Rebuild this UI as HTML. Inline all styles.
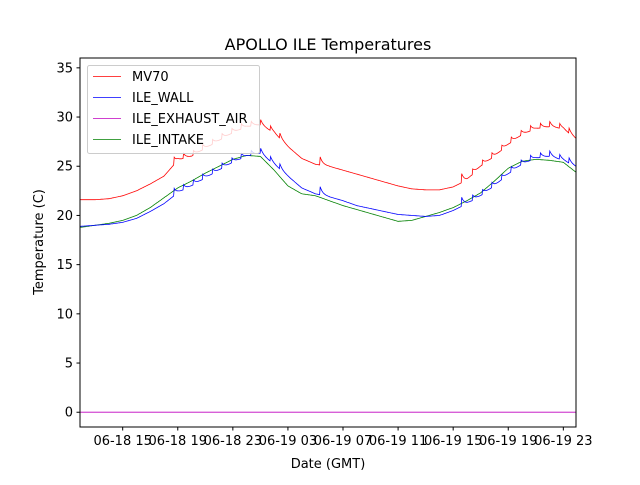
<!DOCTYPE html>
<html><head><meta charset="utf-8"><style>
body{margin:0;background:#fff;}
svg text{font-family:"DejaVu Sans","Liberation Sans",sans-serif;}
</style></head><body>
<svg id="chart" width="640" height="480" xmlns="http://www.w3.org/2000/svg">
<rect width="640" height="480" fill="#fff"/>
<text x="328" y="50" font-size="16" text-anchor="middle">APOLLO ILE Temperatures</text>
<g id="plot"></g>
<text x="328" y="468" font-size="13" text-anchor="middle">Date (GMT)</text>
<text transform="translate(43,242) rotate(-90)" font-size="13" text-anchor="middle">Temperature (C)</text>
</svg>
<script>
const hours = [12,13,14,15,16,17,18,19,20,21,22,23,24,25,26,27,28,29,30,31,32,33,34,35,36,37,38,39,40,41,42,43,44,45,46,47,48];
const mv70 = [21.6,21.6,21.7,22.0,22.5,23.2,24.0,25.6,26.0,26.8,27.6,28.4,29.0,29.2,28.4,27.0,25.8,25.2,25.0,24.6,24.2,23.8,23.4,23.0,22.7,22.6,22.6,22.9,23.6,25.0,26.0,27.2,28.2,28.8,29.0,28.8,27.7];
const wall = [18.9,19.0,19.1,19.3,19.7,20.4,21.2,22.3,23.0,23.8,24.6,25.4,26.0,26.3,25.2,24.0,22.8,22.2,21.9,21.5,21.0,20.7,20.4,20.1,20.0,19.9,20.0,20.5,21.2,22.0,23.0,24.2,25.2,25.8,26.0,25.6,24.9];
const exhaust = [0,0,0,0,0,0,0,0,0,0,0,0,0,0,0,0,0,0,0,0,0,0,0,0,0,0,0,0,0,0,0,0,0,0,0,0,0];
const intake = [18.8,19.0,19.2,19.5,20.0,20.8,21.8,22.8,23.5,24.3,25.0,25.7,26.1,26.0,24.6,23.0,22.2,22.0,21.5,21.0,20.6,20.2,19.8,19.4,19.5,19.9,20.3,20.8,21.5,22.3,23.5,24.8,25.5,25.7,25.6,25.4,24.3];
const spikeTimes = [18.7,19.4,20.1,20.8,21.5,22.2,22.9,23.6,24.3,25.0,25.7,26.4,29.3,39.6,40.4,41.1,41.8,42.5,43.2,43.9,44.6,45.3,46.0,46.7,47.4];
const spikeAmp = [0.9,0.6,0.6,0.6,0.6,0.6,0.6,0.6,0.6,0.6,0.6,0.6,1.0,1.0,0.6,0.6,0.6,0.6,0.6,0.6,0.6,0.6,0.6,0.6,0.6];
const yTicks = [0,5,10,15,20,25,30,35];
const xTickHours = [15,19,23,27,31,35,39,43,47];
const xTickLabels = ["06-18 15","06-18 19","06-18 23","06-19 03","06-19 07","06-19 11","06-19 15","06-19 19","06-19 23"];

const L=80,R=576,T=58,B=427, X0=11.9, X1=47.92, Y0=-1.5, Y1=36;
const xs=h=>L+(h-X0)/(X1-X0)*(R-L);
const ys=v=>B-(v-Y0)/(Y1-Y0)*(B-T);
const NS="http://www.w3.org/2000/svg";
const g=document.getElementById('plot');
function mk(t,a){const e=document.createElementNS(NS,t);for(const k in a)e.setAttribute(k,a[k]);return e;}
const clip=mk('clipPath',{id:'cp'});clip.appendChild(mk('rect',{x:L,y:T,width:R-L,height:B-T}));g.appendChild(clip);
function interp(arr,h){if(h<=hours[0])return arr[0];for(let i=1;i<hours.length;i++){if(h<=hours[i]){const f=(h-hours[i-1])/(hours[i]-hours[i-1]);return arr[i-1]+f*(arr[i]-arr[i-1]);}}return arr[arr.length-1];}
function spike(h,scale){let s=0;for(let i=0;i<spikeTimes.length;i++){const d=h-spikeTimes[i];if(d>=0&&d<0.7)s+=spikeAmp[i]*scale*Math.exp(-d*5);}return s;}
function series(arr,color,name,scale){let pts=[];for(let h=X0;h<=X1+0.05;h+=0.04){pts.push(xs(h).toFixed(1)+','+ys(interp(arr,h)+spike(h,scale)).toFixed(1));}
const p=mk('polyline',{points:pts.join(' '),fill:'none',stroke:color,'stroke-width':0.8,'clip-path':'url(#cp)'});


g.appendChild(p);}
series(exhaust,'#bf00bf','exhaust-air-line',0);
series(intake,'green','intake-line',0);
series(wall,'blue','wall-line',1);
series(mv70,'red','mv70-line',1);
const frame=mk('rect',{x:L,y:T,width:R-L,height:B-T,fill:'none',stroke:'#000','stroke-width':1});


g.appendChild(frame);
yTicks.forEach(v=>{const y=ys(v);g.appendChild(mk('line',{x1:L-3.5,x2:L,y1:y,y2:y,stroke:'#000'}));
const t=mk('text',{x:L-7,y:y+4.5,'font-size':13,'text-anchor':'end'});t.textContent=v;


g.appendChild(t);});
xTickHours.forEach((h,i)=>{const x=xs(h);g.appendChild(mk('line',{x1:x,x2:x,y1:B,y2:B+3.5,stroke:'#000'}));
const t=mk('text',{x:x,y:B+18,'font-size':13,'text-anchor':'middle'});t.textContent=xTickLabels[i];


g.appendChild(t);});
const lg=mk('g',{});


lg.appendChild(mk('rect',{x:87.5,y:65.5,width:172,height:88,rx:2,fill:'#fff','fill-opacity':0.8,stroke:'#ccc'}));
[['MV70','red'],['ILE_WALL','blue'],['ILE_EXHAUST_AIR','#bf00bf'],['ILE_INTAKE','green']].forEach((e,i)=>{const y=76.5+i*21;
lg.appendChild(mk('line',{x1:93,x2:121,y1:y,y2:y,stroke:e[1],'stroke-width':0.8}));
const t=mk('text',{x:132,y:y+4.5,'font-size':13});t.textContent=e[0];


lg.appendChild(t);});
g.appendChild(lg);
</script>
</body></html>
